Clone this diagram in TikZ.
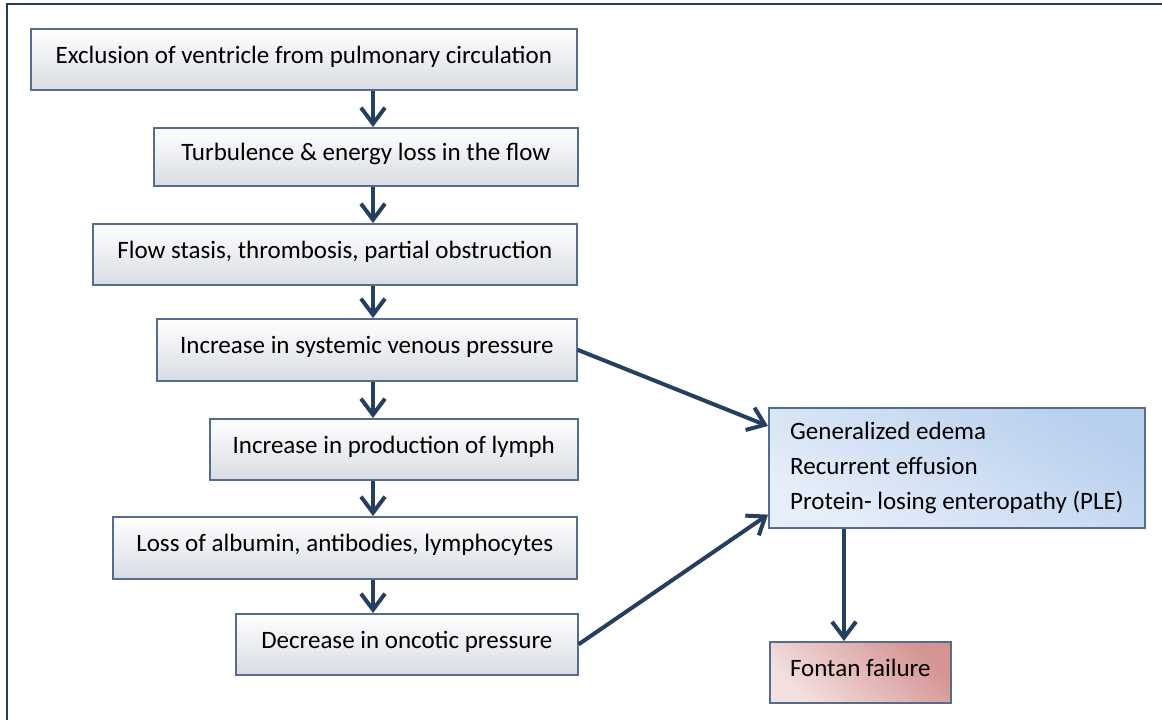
\documentclass[tikz,border=0pt]{standalone}
\usepackage{fontspec}
\setmainfont{Carlito}
\usepackage{tikz}
\usetikzlibrary{arrows.meta}
\definecolor{navy}{RGB}{36,63,96}
\definecolor{boxline}{RGB}{86,108,140}
\definecolor{boxgray}{RGB}{216,220,227}
\definecolor{edemablue}{RGB}{184,207,238}
\definecolor{edemalight}{RGB}{230,238,249}
\definecolor{failrose}{RGB}{212,148,146}
\definecolor{faillight}{RGB}{243,224,223}
\tikzstyle{basebox} = [rectangle, anchor=north west, draw=boxline,
    line width=0.8pt, font=\fontsize{12.5}{15}\selectfont]
\tikzstyle{stepbox} = [basebox, top color=white, bottom color=boxgray,
    text centered, text height=9pt, text depth=5pt]
\tikzstyle{edemabox} = [basebox, top color=edemablue,
    bottom color=edemalight, shading angle=-30, align=left,
    font=\fontsize{12.5}{17.5}\selectfont]
\tikzstyle{failbox} = [stepbox, top color=failrose,
    bottom color=faillight, shading angle=-45]
\tikzstyle{arrow} = [line width=2pt, draw=navy,
    -{Straight Barb[length=8pt,width=12pt]}]

\begin{document}
\begin{tikzpicture}[x=0.5pt, y=-0.5pt]
            \useasboundingbox (0,0) rectangle (1162,720);
            % Frame
            \draw[navy, line width=1.2pt] (7,720) -- (7,4) -- (1162,4);
            % Boxes
            \node[stepbox, minimum width=273pt, minimum height=30.5pt]
            (b1) at (30,28) {Exclusion of ventricle from pulmonary circulation};
            \node[stepbox, minimum width=212pt, minimum height=29pt]
            (b2) at (153,127) {Turbulence \& energy loss in the flow};
            \node[stepbox, minimum width=242pt, minimum height=30.5pt]
            (b3) at (92,223) {Flow stasis, thrombosis, partial obstruction};
            \node[stepbox, minimum width=210pt, minimum height=31pt]
            (b4) at (156,318) {Increase in systemic venous pressure};
            \node[stepbox, minimum width=184pt, minimum height=30.5pt]
            (b5) at (209,418) {Increase in production of lymph};
            \node[stepbox, minimum width=232pt, minimum height=31pt]
            (b6) at (112,516) {Loss of albumin, antibodies, lymphocytes};
            \node[stepbox, minimum width=171pt, minimum height=30.5pt]
            (b7) at (235,613) {Decrease in oncotic pressure};
            \node[edemabox, minimum width=188pt, minimum height=60pt]
            (gen) at (768,407) {Generalized edema\\Recurrent effusion\\
            Protein- losing enteropathy (PLE)};
            \node[failbox, minimum width=90.5pt, minimum height=30.5pt]
            (ff) at (769,641) {Fontan failure};
            % Arrows
            \coordinate (ax) at (373,0);
            \coordinate (fx) at (844,0);
            \draw[arrow] (b1.south -| ax) -- (b2.north -| ax);
            \draw[arrow] (b2.south -| ax) -- (b3.north -| ax);
            \draw[arrow] (b3.south -| ax) -- (b4.north -| ax);
            \draw[arrow] (b4.south -| ax) -- (b5.north -| ax);
            \draw[arrow] (b5.south -| ax) -- (b6.north -| ax);
            \draw[arrow] (b6.south -| ax) -- (b7.north -| ax);
            \draw[arrow] (b4.east) -- ([yshift=-9.5pt]gen.north west);
            \draw[arrow] (b7.east) -- ([yshift=7pt]gen.south west);
            \draw[arrow] (gen.south -| fx) -- (ff.north -| fx);

        \end{tikzpicture}
\end{document}
